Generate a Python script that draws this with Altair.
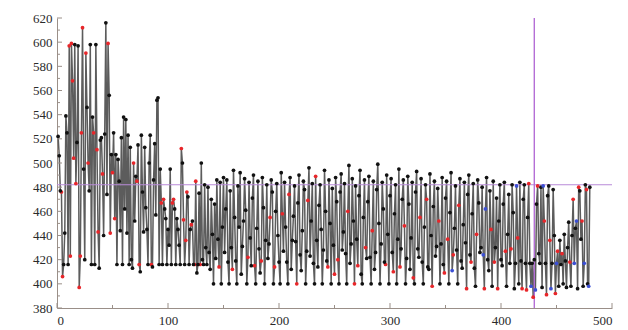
import altair as alt
import pandas as pd

# Observed series, one value per step (x = 1..480)
values = [
    522, 506, 477, 476, 406, 416, 442, 539, 525, 416,
    597, 423, 599, 568, 504, 598, 483, 517, 597, 397,
    423, 525, 612, 495, 420, 591, 546, 500, 477, 598,
    416, 538, 525, 416, 598, 511, 443, 413, 519, 521,
    491, 440, 524, 616, 474, 599, 556, 442, 507, 492,
    525, 454, 507, 416, 503, 485, 444, 521, 416, 538,
    462, 536, 442, 523, 416, 513, 420, 413, 500, 452,
    489, 485, 515, 416, 410, 523, 476, 443, 513, 463,
    445, 416, 500, 523, 416, 414, 486, 516, 457, 552,
    554, 416, 495, 467, 416, 470, 462, 454, 416, 445,
    432, 495, 416, 467, 470, 462, 416, 454, 445, 432,
    416, 512, 500, 453, 416, 436, 476, 472, 416, 445,
    449, 452, 416, 416, 485, 409, 416, 475, 416, 500,
    420, 416, 482, 430, 416, 480, 426, 412, 470, 441,
    400, 466, 421, 486, 437, 414, 484, 400, 447, 488,
    426, 462, 486, 418, 400, 477, 430, 412, 494, 455,
    419, 400, 481, 447, 492, 408, 431, 452, 487, 461,
    400, 422, 484, 438, 415, 471, 490, 415, 400, 446,
    485, 429, 409, 419, 488, 463, 400, 436, 482, 421,
    433, 455, 486, 476, 400, 414, 460, 483, 440, 418,
    400, 492, 458, 427, 484, 447, 418, 400, 474, 488,
    412, 436, 456, 481, 435, 400, 467, 490, 424, 411,
    444, 485, 478, 400, 427, 469, 496, 423, 452, 483,
    417, 400, 489, 436, 414, 465, 482, 445, 400, 428,
    494, 460, 419, 414, 486, 450, 400, 479, 432, 408,
    488, 468, 420, 400, 476, 491, 428, 443, 483, 425,
    400, 460, 498, 417, 433, 487, 452, 400, 481, 437,
    415, 473, 494, 408, 400, 455, 486, 430, 421, 468,
    489, 422, 400, 444, 485, 412, 426, 478, 499, 450,
    400, 433, 484, 462, 418, 416, 490, 441, 400, 473,
    487, 426, 410, 458, 482, 400, 437, 495, 414, 429,
    470, 486, 448, 400, 421, 489, 466, 412, 438, 484,
    405, 400, 476, 493, 429, 422, 455, 487, 418, 400,
    447, 482, 470, 414, 412, 491, 440, 398, 464, 485,
    423, 431, 479, 452, 400, 433, 488, 416, 409, 471,
    485, 437, 400, 459, 492, 411, 424, 446, 481, 428,
    400, 465, 487, 419, 413, 449, 484, 434, 396, 474,
    490, 424, 418, 458, 483, 413, 398, 441, 486, 467,
    426, 430, 480, 424, 396, 462, 488, 420, 411, 477,
    445, 398, 485, 418, 430, 471, 396, 452, 482, 420,
    415, 466, 484, 427, 398, 441, 474, 417, 429, 482,
    459, 396, 417, 481, 438, 400, 484, 419, 396, 470,
    482, 417, 395, 455, 483, 417, 398, 417, 389, 420,
    395, 466, 481, 425, 417, 480, 397, 481, 452, 417,
    391, 473, 481, 436, 396, 417, 478, 440, 392, 417,
    427, 398, 436, 416, 425, 400, 441, 419, 397, 430,
    451, 418, 398, 440, 470, 417, 446, 452, 396, 480,
    477, 437, 452, 398, 417, 482, 478, 400, 398, 480,
]

# Steps whose markers are drawn red / blue
red_steps = [4, 5, 11, 12, 13, 14, 15, 17, 20, 21, 22, 23, 26, 28, 33, 36, 37,
             41, 46, 48, 50, 52, 69, 72, 74, 85, 94, 96, 104, 105, 112, 114,
             116, 117, 121, 124, 125, 129, 146, 158, 172, 178, 184,
             192, 196, 203, 209, 216, 226, 233, 244, 250, 253, 262, 268, 271,
             278, 284, 296, 303, 309, 313, 321, 327, 333, 338, 344, 349, 352,
             357, 362, 369, 373, 378, 385, 391, 394, 397, 404, 409, 415, 419,
             423, 425, 429, 433, 439, 441, 444, 449, 451, 455, 462, 465, 470,
             473, 477]
blue_steps = [356, 384, 386, 414, 427, 431, 438, 445, 450, 466, 468, 475, 479]

# Reference levels
h_level = [482]
v_level = [430]

# Tick positions
x_major = [0, 100, 200, 300, 400, 500]
x_minor = [50, 150, 250, 350, 450]
y_major = [380, 400, 420, 440, 460, 480, 500, 520, 540, 560, 580, 600, 620]
y_minor = [390, 410, 430, 450, 470, 490, 510, 530, 550, 570, 590, 610]

kind = ["k"] * len(values)
for s in red_steps:
    kind[s - 1] = "r"
for s in blue_steps:
    kind[s - 1] = "b"

df = pd.DataFrame({"step": list(range(1, len(values) + 1)), "val": values, "kind": kind})

W, H = 555, 290
FONT = "Liberation Serif"
AX = "#9a8f88"

xs = alt.Scale(domain=[0, 500], nice=False)
ys = alt.Scale(domain=[380, 620], nice=False)

x_axis = alt.Axis(values=x_major, grid=False, ticks=False, domainColor=AX,
                  labelFont=FONT, labelFontSize=13, labelColor="#2a2a2a",
                  labelPadding=6, labelOverlap=False, title=None)
y_axis = alt.Axis(values=y_major, grid=False, ticks=False, domainColor=AX,
                  labelFont=FONT, labelFontSize=13, labelColor="#2a2a2a",
                  labelPadding=5, labelOverlap=False, title=None)

hline = alt.Chart(pd.DataFrame({"y": h_level})).mark_rule(
    color="#b98ad8", strokeWidth=1.2).encode(y=alt.Y("y:Q", scale=ys, axis=y_axis))
vline = alt.Chart(pd.DataFrame({"x": v_level})).mark_rule(
    color="#b56fd6", strokeWidth=1.4).encode(x=alt.X("x:Q", scale=xs, axis=x_axis))

line = alt.Chart(df).mark_line(color="#5c5c5c", strokeWidth=1.5).encode(
    x=alt.X("step:Q", scale=xs, axis=x_axis),
    y=alt.Y("val:Q", scale=ys, axis=y_axis),
)
pts = alt.Chart(df).mark_circle(size=14, opacity=1).encode(
    x=alt.X("step:Q", scale=xs, axis=x_axis),
    y=alt.Y("val:Q", scale=ys, axis=y_axis),
    color=alt.Color("kind:N", scale=alt.Scale(domain=["k", "r", "b"],
                                              range=["#111111", "#e8262a", "#3b4fd4"]),
                    legend=None),
    order=alt.Order("kind:N", sort="descending"),
)

# inward tick marks
xt_major = alt.Chart(pd.DataFrame({"t": x_major})).mark_rule(color=AX).encode(
    x=alt.X("t:Q", scale=xs, axis=x_axis), y=alt.value(H), y2=alt.value(H - 5))
xt_minor = alt.Chart(pd.DataFrame({"t": x_minor})).mark_rule(color=AX).encode(
    x=alt.X("t:Q", scale=xs, axis=x_axis), y=alt.value(H), y2=alt.value(H - 3))
yt_major = alt.Chart(pd.DataFrame({"t": y_major})).mark_rule(color=AX).encode(
    y=alt.Y("t:Q", scale=ys, axis=y_axis), x=alt.value(0), x2=alt.value(5))
yt_minor = alt.Chart(pd.DataFrame({"t": y_minor})).mark_rule(color=AX).encode(
    y=alt.Y("t:Q", scale=ys, axis=y_axis), x=alt.value(0), x2=alt.value(3))

chart = alt.layer(line, hline, vline, pts, xt_major, xt_minor, yt_major, yt_minor).properties(
    width=W, height=H,
    background="white",
    autosize=alt.AutoSizeParams(type="none"),
    padding={"left": 57, "top": 18, "right": 16, "bottom": 22},
).configure_view(stroke=None, strokeWidth=0).configure_axis(labelOverlap=False)

chart.save("out.html", embed_options={"renderer": "svg", "actions": False})
